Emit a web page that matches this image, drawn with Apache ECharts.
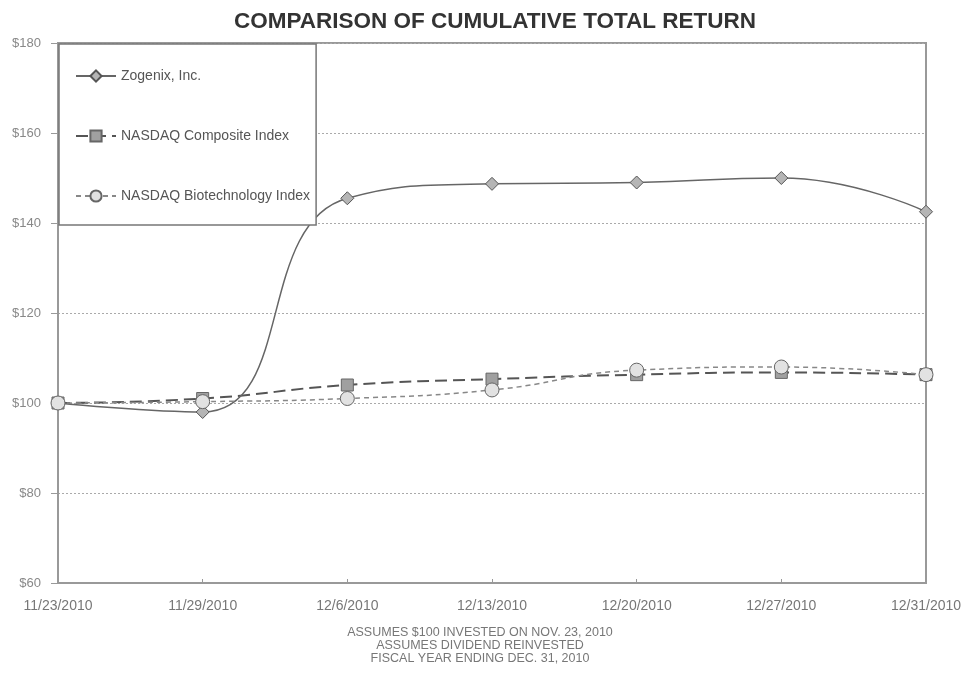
<!DOCTYPE html>
<html>
<head>
<meta charset="utf-8">
<script src="https://cdn.jsdelivr.net/npm/echarts@6/dist/echarts.min.js"></script>
<style>
html,body{margin:0;padding:0;background:#fff;}
#chart{width:966px;height:674px;}
</style>
</head>
<body>
<div id="chart"></div>
<script>
var categories = ['11/23/2010','11/29/2010','12/6/2010','12/13/2010','12/20/2010','12/27/2010','12/31/2010'];
var zogenix = [100, 98, 145.5, 148.7, 149, 150, 142.5];
var nasdaqComposite = [100, 101, 104, 105.3, 106.3, 106.8, 106.3];
var nasdaqBiotech = [100, 100.3, 101, 102.9, 107.3, 108, 106.3];
var yTicks = [60, 80, 100, 120, 140, 160, 180];
var footer = ['ASSUMES $100 INVESTED ON NOV. 23, 2010', 'ASSUMES DIVIDEND REINVESTED', 'FISCAL YEAR ENDING DEC. 31, 2010'];

var FONT = '"Liberation Sans", Arial, sans-serif';
var chart = echarts.init(document.getElementById('chart'));
chart.setOption({
  animation: false,
  backgroundColor: '#fff',
  title: {
    text: 'COMPARISON OF CUMULATIVE TOTAL RETURN',
    left: 490, textAlign: 'center', top: 5,
    textStyle: {fontFamily: FONT, fontSize: 22.5, fontWeight: 'bold', color: '#333'}
  },
  grid: {
    left: 58, right: 40, top: 43, bottom: 91,
    show: true, borderColor: '#999', borderWidth: 2, backgroundColor: 'transparent'
  },
  legend: {
    orient: 'vertical', left: 59, top: 44,
    padding: [25, 6, 22, 16],
    itemGap: 46, itemWidth: 40, itemHeight: 14,
    backgroundColor: '#fff', borderColor: '#777', borderWidth: 1.5,
    textStyle: {fontFamily: FONT, fontSize: 14, color: '#555'},
    data: ['Zogenix, Inc.', 'NASDAQ Composite Index', 'NASDAQ Biotechnology Index']
  },
  xAxis: {
    type: 'category', data: categories, boundaryGap: false,
    axisLine: {lineStyle: {color: '#999', width: 2}},
    axisTick: {inside: true, length: 4, lineStyle: {color: '#999'}},
    axisLabel: {fontFamily: FONT, fontSize: 14, color: '#777', margin: 16, showMinLabel: true, showMaxLabel: true, interval: 0}
  },
  yAxis: {
    type: 'value', min: 60, max: 180, interval: 20,
    axisLine: {show: true, lineStyle: {color: '#999', width: 2}},
    axisTick: {show: true, length: 7, lineStyle: {color: '#999'}},
    axisLabel: {fontFamily: FONT, fontSize: 13, color: '#888', margin: 17,
      formatter: function (v) { return '$' + v; }},
    splitLine: {show: true, lineStyle: {color: '#aaa', type: [2, 2], width: 1}}
  },
  graphic: footer.map(function (t, i) {
    return {type: 'text', x: 480, y: 626 + i * 13,
      style: {text: t, fontFamily: FONT, fontSize: 12.5, fill: '#777', textAlign: 'center'}};
  }),
  series: [
    {
      name: 'Zogenix, Inc.', type: 'line', data: zogenix, smooth: 0.5,
      symbol: 'diamond', symbolSize: 13, z: 3,
      lineStyle: {color: '#666', width: 1.5},
      itemStyle: {color: '#b5b5b5', borderColor: '#555', borderWidth: 1}
    },
    {
      name: 'NASDAQ Composite Index', type: 'line', data: nasdaqComposite, smooth: 0.5,
      symbol: 'rect', symbolSize: 12, z: 2,
      lineStyle: {color: '#555', width: 2, type: [12, 6]},
      itemStyle: {color: '#a0a0a0', borderColor: '#666', borderWidth: 1}
    },
    {
      name: 'NASDAQ Biotechnology Index', type: 'line', data: nasdaqBiotech, smooth: 0.5,
      symbol: 'circle', symbolSize: 14, z: 4,
      lineStyle: {color: '#888', width: 1.5, type: [5, 4]},
      itemStyle: {color: '#e2e2e2', borderColor: '#666', borderWidth: 1}
    }
  ]
});
</script>
</body>
</html>
